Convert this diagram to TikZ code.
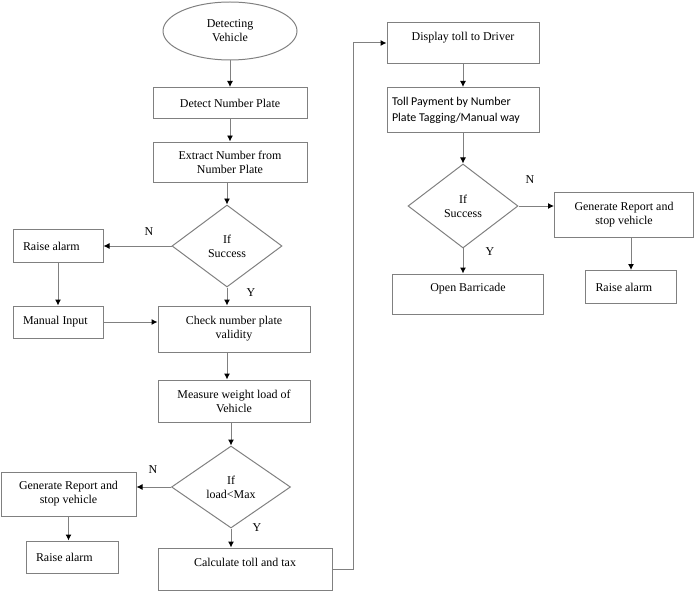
\documentclass[tikz,border=0pt]{standalone}
\usepackage{fontspec}
\setmainfont{Liberation Serif}
\newfontfamily\calibrifont{Carlito}
\usepackage{tikz}
\usetikzlibrary{shapes,arrows.meta,positioning}

\begin{document}
\begin{tikzpicture}[x=1bp,y=-1bp,
  font=\fontsize{12}{14}\selectfont,
  startnode/.style={ellipse,draw=black!50,line width=1pt,inner sep=0pt,align=center},
  procbox/.style={rectangle,draw=black!50,line width=1pt,align=center,inner sep=0pt},
  leftbox/.style={procbox,align=flush left,inner xsep=10bp},
  decision/.style={diamond,draw=black!50,line width=1pt,inner sep=0pt,align=center},
  flow/.style={draw=black!50,line width=1pt,-{Latex[black,length=6bp,width=6bp]}},
  yn/.style={inner sep=0pt}]
\useasboundingbox (0,0) rectangle (698,594);

% left column
\node[startnode,minimum width=134bp,minimum height=58bp] (detect) at (230,31) {Detecting\\Vehicle};
\node[procbox,minimum width=154bp,minimum height=31bp] (plate) at (230,103) {Detect Number Plate};
\node[procbox,minimum width=154bp,minimum height=40bp] (extract) at (230,162) {Extract Number from\\Number Plate};
\node[decision,minimum width=110bp,minimum height=82bp] (succ1) at (227,246) {If\\Success};
\node[leftbox,text width=70bp,minimum height=33bp] (alarm1) at (58,246) {Raise alarm};
\node[leftbox,text width=70bp,minimum height=32bp] (manual) at (58,322) {Manual Input};
\node[procbox,minimum width=152bp,minimum height=46bp] (valid) at (234,329) {Check number plate\\validity};
\node[procbox,minimum width=152bp,minimum height=42bp] (weight) at (234,401) {Measure weight load of\\Vehicle};
\node[decision,minimum width=119bp,minimum height=82bp] (load) at (231,487) {If\\load<Max};
\node[procbox,minimum width=135bp,minimum height=44bp] (report1) at (68.5,494) {Generate Report and\\stop vehicle};
\node[leftbox,text width=72bp,minimum height=32bp] (alarm2) at (72,557) {Raise alarm};
\node[procbox,minimum width=174bp,minimum height=42bp] (toll) at (245,569) {Calculate toll and tax\\~};

% right column
\node[procbox,minimum width=152bp,minimum height=40bp] (display) at (463,43) {Display toll to Driver\\~};
\node[leftbox,inner xsep=5bp,text width=142bp,minimum height=45bp,font=\calibrifont\fontsize{12}{16}\selectfont] (payment) at (463,110) {Toll Payment by Number\\Plate Tagging/Manual way};
\node[decision,minimum width=110bp,minimum height=84bp] (succ2) at (463,206) {If\\Success};
\node[procbox,minimum width=139bp,minimum height=45bp] (report2) at (624,215) {Generate Report and\\stop vehicle};
\node[procbox,minimum width=151bp,minimum height=40bp] (gate) at (468,294) {Open Barricade\\~};
\node[leftbox,text width=71bp,minimum height=33bp] (alarm3) at (631,287) {Raise alarm};

\node[yn] (n1) at (149,232) {N};
\node[yn] (y1) at (251,293) {Y};
\node[yn] (n2) at (153,470) {N};
\node[yn] (y2) at (257,528) {Y};
\node[yn] (n3) at (530,180) {N};
\node[yn] (y3) at (490,252) {Y};

\draw[flow] (detect) -- (plate);
\draw[flow] (plate) -- (extract);
\draw[flow] (extract.south -| succ1.north) -- (succ1.north);
\draw[flow] (succ1.west) -- (succ1.west -| alarm1.east);
\draw[flow] (alarm1) -- (manual);
\draw[flow] (manual.east) -- (manual.east -| valid.west);
\draw[flow] (succ1.south) -- (succ1.south |- valid.north);
\draw[flow] (succ1.south |- valid.south) -- (succ1.south |- weight.north);
\draw[flow] (load.north |- weight.south) -- (load.north);
\draw[flow] (load.west) -- (load.west -| report1.east);
\draw[flow] (report1.south) -- (report1.south |- alarm2.north);
\draw[flow] (load.south) -- (load.south |- toll.north);
\draw[flow] (toll.east) -- ++(21,0) |- (display.west);
\draw[flow] (display) -- (payment);
\draw[flow] (payment) -- (succ2);
\draw[flow] (succ2.east) -- (succ2.east -| report2.west);
\draw[flow] (alarm3.north |- report2.south) -- (alarm3.north);
\draw[flow] (succ2.south) -- (succ2.south |- gate.north);

\end{tikzpicture}
\end{document}
